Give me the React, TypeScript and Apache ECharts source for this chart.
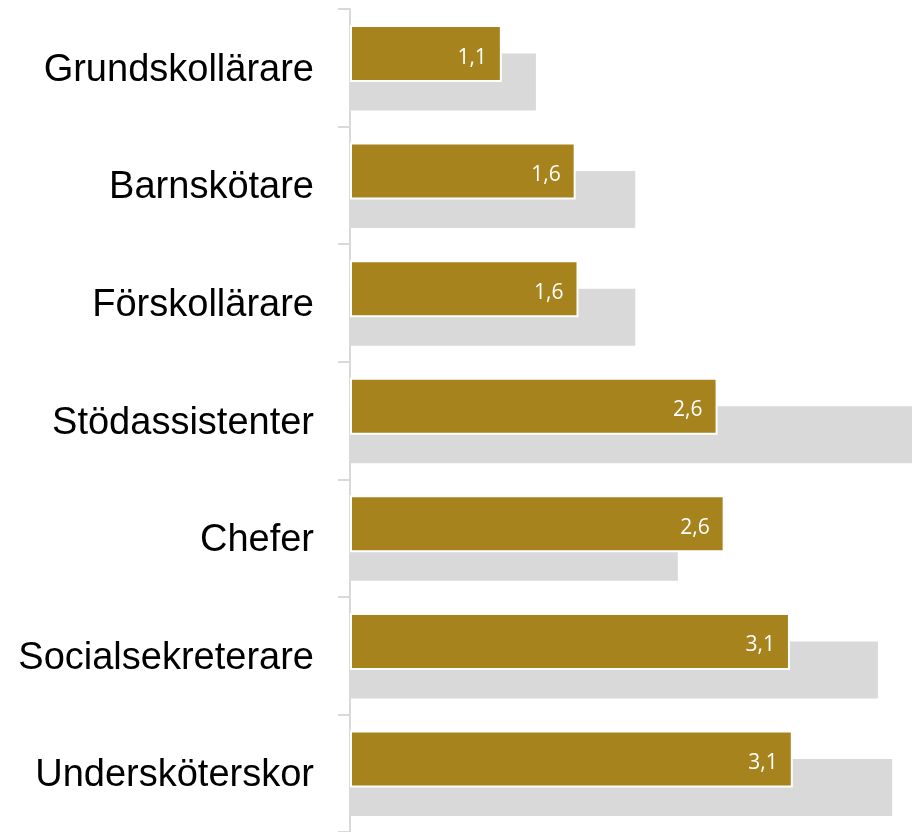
import React, { useEffect, useRef } from "react";
import * as echarts from "echarts";

const categories = [
  "Grundskollärare",
  "Barnskötare",
  "Förskollärare",
  "Stödassistenter",
  "Chefer",
  "Socialsekreterare",
  "Undersköterskor",
];
const goldValues = [1.07, 1.59, 1.61, 2.59, 2.64, 3.1, 3.12];
const greyValues = [1.31, 2.01, 2.01, 4.1, 2.31, 3.72, 3.82];

export default function App() {
  const ref = useRef<HTMLDivElement>(null);
  useEffect(() => {
    const chart = echarts.init(ref.current!, undefined, { renderer: "svg" });
    chart.setOption({
      animation: false,
      grid: { left: 350, right: 0, top: 9, bottom: -3, containLabel: false },
      xAxis: {
        type: "value",
        min: 0,
        max: 3.96,
        show: false,
      },
      yAxis: {
        type: "category",
        inverse: true,
        data: categories,
        axisLine: { show: true, lineStyle: { color: "#D9D9D9", width: 2 } },
        axisTick: { show: true, length: 12, lineStyle: { color: "#D9D9D9", width: 2 } },
        axisLabel: {
          margin: 36,
          fontFamily: "Liberation Sans",
          fontSize: 38,
          color: "#000",
        },
      },
      series: [
        {
          type: "bar",
          name: "gold",
          data: goldValues,
          barWidth: 57,
          barGap: "-50%",
          z: 3,
          itemStyle: { color: "#A6831D", borderColor: "#fff", borderWidth: 2 },
          label: {
            show: true,
            position: "insideRight",
            distance: 15,
            color: "#fff",
            fontFamily: "Open Sans",
            fontSize: 21,
            offset: [0, 2],
            formatter: (p: any) => p.value.toFixed(1).replace(".", ","),
          },
        },
        {
          type: "bar",
          name: "grey",
          data: greyValues,
          barWidth: 57,
          barGap: "-50%",
          z: 2,
          itemStyle: { color: "#D9D9D9" },
        },
      ],
    });
    return () => chart.dispose();
  }, []);
  return (
    <div
      ref={ref}
      style={{ position: "fixed", left: 0, top: 0, width: 912, height: 832 }}
    />
  );
}
